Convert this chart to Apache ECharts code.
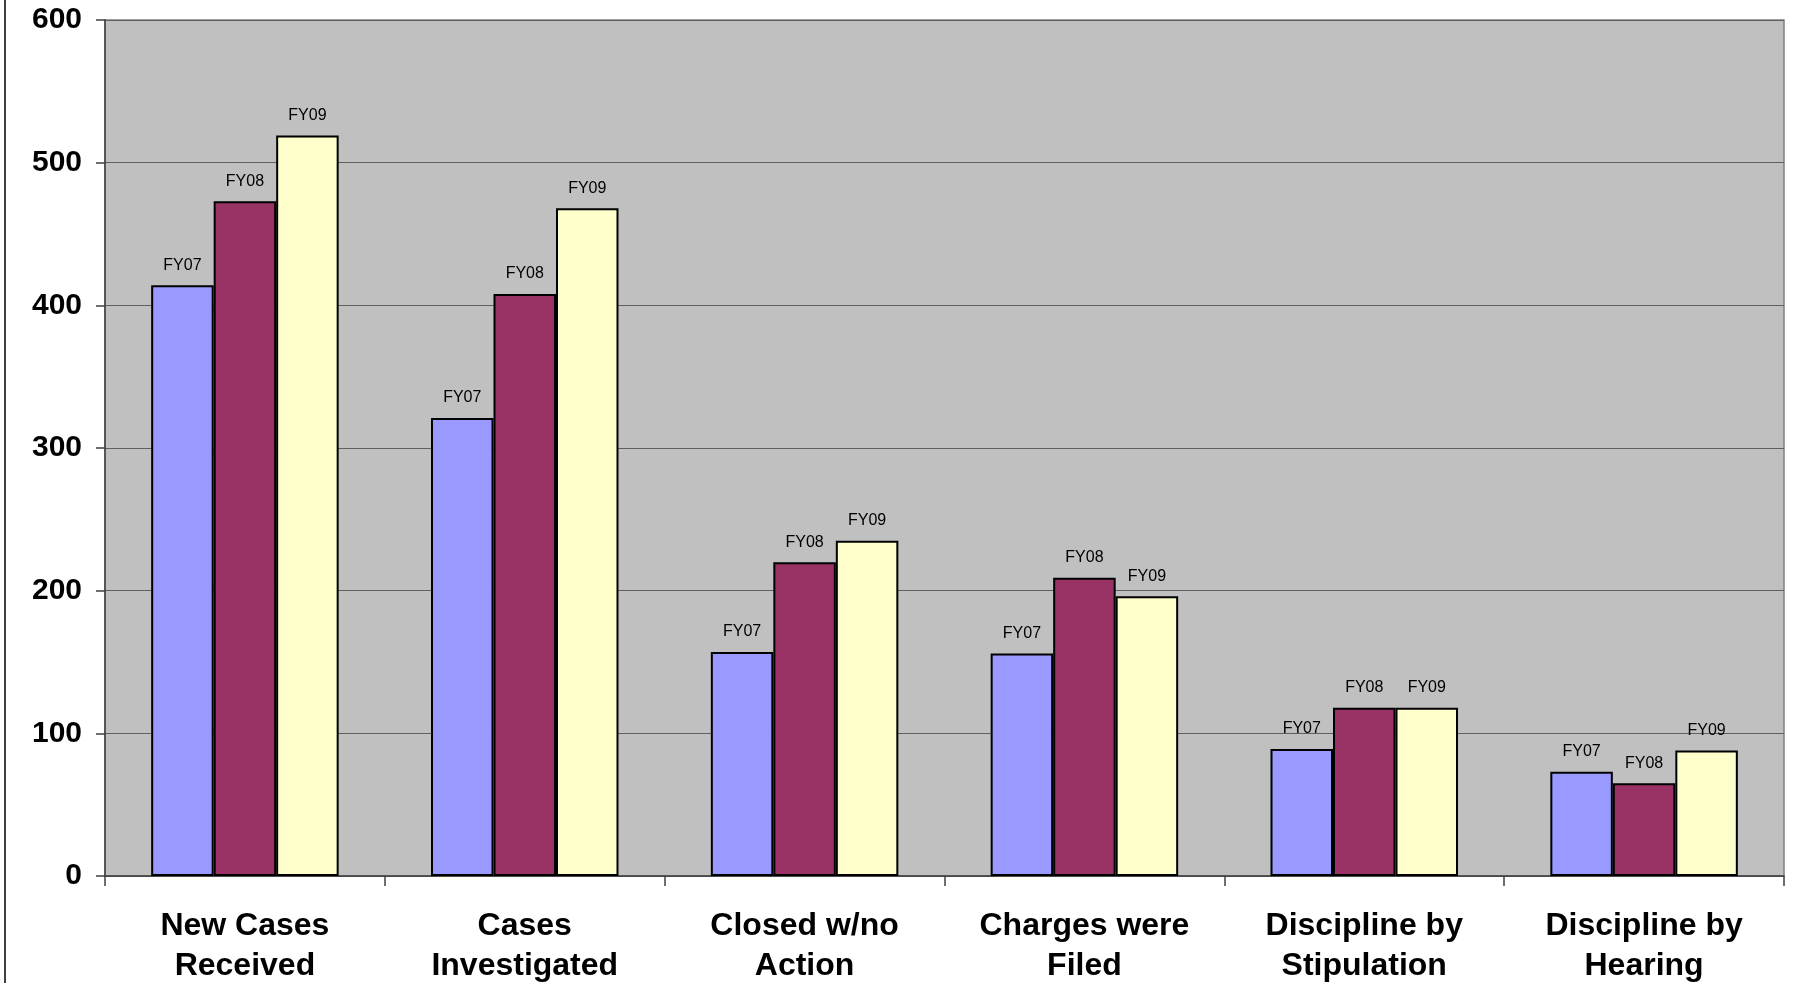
<!DOCTYPE html>
<html>
<head>
<meta charset="utf-8">
<script src="https://cdn.jsdelivr.net/npm/echarts@6/dist/echarts.min.js"></script>
<style>
html,body{margin:0;padding:0;background:#fff;}
#chart{width:1795px;height:983px;}
</style>
</head>
<body>
<div id="chart"></div>
<script>
const categories = ["New Cases\nReceived", "Cases\nInvestigated", "Closed w/no\nAction", "Charges were\nFiled", "Discipline by\nStipulation", "Discipline by\nHearing"];
const seriesNames = ["FY07", "FY08", "FY09"];
const fy07 = [414, 321, 157, 156, 89, 73];
const fy08 = [473, 408, 220, 209, 118, 65];
const fy09 = [519, 468, 235, 196, 118, 88];
const yTicks = { min: 0, max: 600, interval: 100 };
const colors = ["#9999FF", "#993366", "#FFFFCC"];

const chart = echarts.init(document.getElementById('chart'), null, { renderer: 'canvas' });
const values = [fy07, fy08, fy09];
const series = seriesNames.map((name, i) => ({
  name: name,
  type: 'bar',
  data: values[i],
  barGap: '0%',
  barCategoryGap: '33%',
  itemStyle: { color: colors[i], borderColor: '#000', borderWidth: 2 },
  label: {
    show: true,
    position: 'top',
    distance: 12,
    formatter: '{a}',
    fontFamily: 'Liberation Sans, Arial, sans-serif',
    fontSize: 16,
    color: '#000'
  },
  animation: false
}));

chart.setOption({
  animation: false,
  backgroundColor: '#ffffff',
  grid: {
    left: 105, right: 11, top: 20, bottom: 107,
    outerBoundsMode: 'none',
    containLabel: false,
    show: true,
    backgroundColor: '#C0C0C0',
    borderColor: '#808080',
    borderWidth: 1.5
  },
  xAxis: {
    type: 'category',
    data: categories,
    axisLine: { show: true, lineStyle: { color: '#404040', width: 1.5 } },
    axisTick: { show: true, length: 10, alignWithLabel: false, lineStyle: { color: '#404040', width: 1.5 } },
    axisLabel: {
      fontFamily: 'Liberation Sans, Arial, sans-serif',
      fontWeight: 'bold',
      fontSize: 32,
      lineHeight: 40,
      color: '#000',
      margin: 30,
      interval: 0
    },
    splitLine: { show: false }
  },
  yAxis: {
    type: 'value',
    min: yTicks.min,
    max: yTicks.max,
    interval: yTicks.interval,
    axisLine: { show: true, lineStyle: { color: '#404040', width: 1.5 } },
    axisTick: { show: true, length: 9, lineStyle: { color: '#404040', width: 1.5 } },
    axisLabel: {
      fontFamily: 'Liberation Sans, Arial, sans-serif',
      fontWeight: 'bold',
      fontSize: 30,
      color: '#000',
      margin: 23
    },
    splitLine: { show: true, lineStyle: { color: '#606060', width: 1.2 } }
  },
  graphic: [{
    type: 'line',
    shape: { x1: 5, y1: 0, x2: 5, y2: 983 },
    style: { stroke: '#000', lineWidth: 1.5 },
    silent: true
  }],
  series: series
});
</script>
</body>
</html>
